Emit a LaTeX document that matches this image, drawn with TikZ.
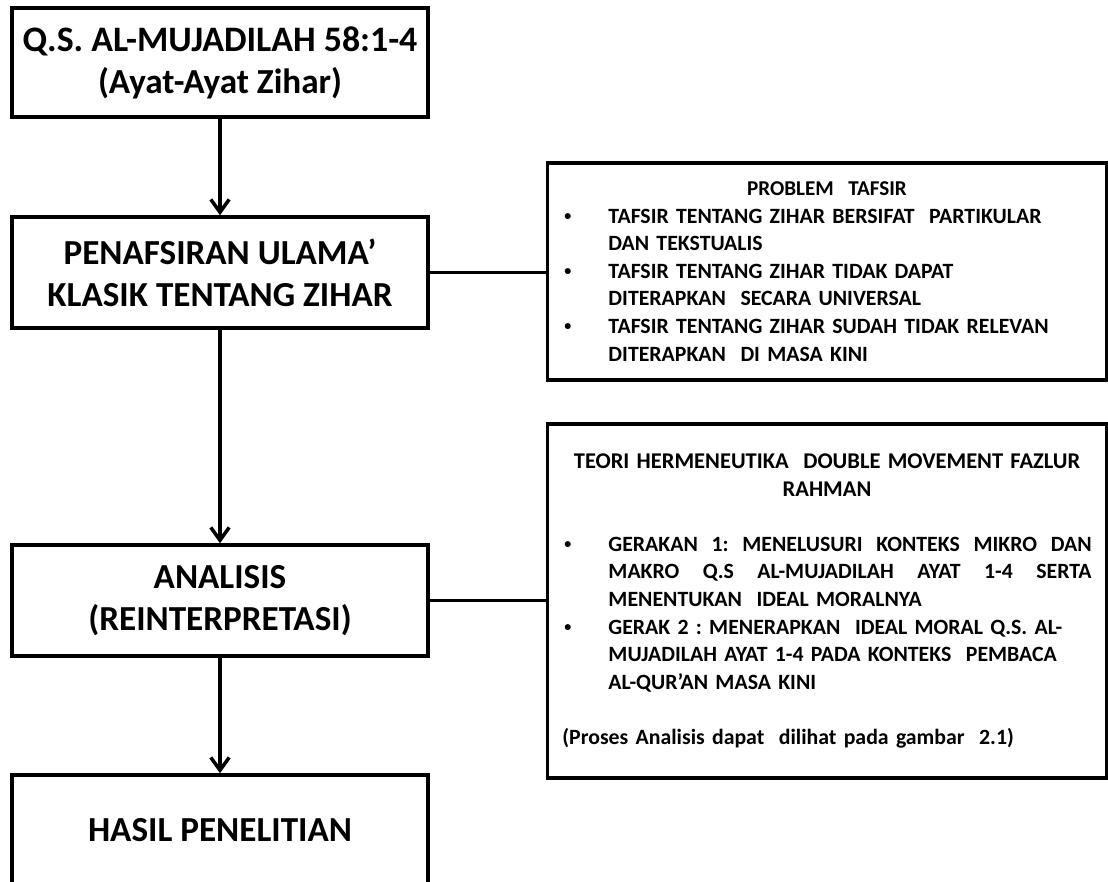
\documentclass[tikz,border=0pt]{standalone}
\usepackage{fontspec}
\setmainfont{Carlito}
\frenchspacing
\usepackage{tikz}
\usetikzlibrary{arrows.meta, positioning}

\newcommand{\notedot}{\makebox[1.15cm][l]{\hspace*{0.05cm}%
  \raisebox{0.12em}{\fontsize{10}{10}\selectfont\textbullet}}}
\newcommand{\noteskip}{\hspace*{1.15cm}}

\tikzset{
  flowbox/.style={
    draw, line width=2.5pt, align=center, fill=white,
    minimum width=10.4cm, minimum height=2.775cm,
    font=\bfseries\fontsize{25}{30}\selectfont
  },
  notebox/.style={
    draw, line width=2.5pt, align=left, fill=white,
    text width=13.225cm, inner xsep=0.375cm, minimum width=13.95cm,
    font=\bfseries\fontsize{15.5}{19.6}\selectfont
  },
  flowarrow/.style={
    -{Straight Barb[length=3.2mm, width=4.6mm]}, line width=2.5pt
  },
  flowline/.style={line width=2.5pt},
}

\begin{document}
\begin{tikzpicture}[x=0.025cm, y=-0.025cm]
  \useasboundingbox (0,0) rectangle (1108,881);

  % ── Main column ────────────────────────────────────────────────
  \node[flowbox, minimum height=2.725cm] (qs) at (220,62.5)
    {{\fontsize{25.5}{30}\selectfont Q.S. AL-MUJADILAH 58:1-4}\\(Ayat-Ayat Zihar)};
  \node[flowbox] (tafsir) at (220,272.5)
    {PENAFSIRAN ULAMA’\\KLASIK TENTANG ZIHAR};
  \node[flowbox] (analisis) at (220,600.5)
    {ANALISIS\\(REINTERPRETASI)};
  \node[flowbox] (hasil) at (220,830.5) {HASIL PENELITIAN};

  \draw[flowarrow] (qs.south) -- (tafsir.north);
  \draw[flowarrow] (tafsir.south) -- (analisis.north);
  \draw[flowarrow] (analisis.south) -- (hasil.north);

  % ── Side notes ─────────────────────────────────────────────────
  \node[notebox, minimum height=5.425cm] (problem) at (827,271.5) {%
    \makebox[\linewidth]{\fontsize{15}{19.6}\selectfont
      PROBLEM\ \ TAFSIR}\\
    \notedot TAFSIR TENTANG ZIHAR BERSIFAT\ \ PARTIKULAR\\
    \noteskip DAN TEKSTUALIS\\
    \notedot TAFSIR TENTANG ZIHAR TIDAK DAPAT\\
    \noteskip DITERAPKAN\ \ SECARA UNIVERSAL\\
    \notedot TAFSIR TENTANG ZIHAR SUDAH TIDAK RELEVAN\\
    \noteskip DITERAPKAN\ \ DI MASA KINI};

  \node[notebox, minimum height=8.85cm] (teori) at (827,601) {%
    \makebox[\linewidth]{\fontsize{16}{19.6}\selectfont
      TEORI HERMENEUTIKA\ \ DOUBLE MOVEMENT FAZLUR}\\
    \makebox[\linewidth]{\fontsize{16}{19.6}\selectfont RAHMAN}\\[19.6pt]
    \notedot\hbox to 12.075cm{GERAKAN\hfill 1:\hfill MENELUSURI\hfill
      KONTEKS\hfill MIKRO\hfill DAN}\\
    \noteskip\hbox to 12.075cm{MAKRO\hfill Q.S\hfill AL-MUJADILAH\hfill
      AYAT\hfill 1-4\hfill SERTA}\\
    \noteskip MENENTUKAN\ \ IDEAL MORALNYA\\
    \notedot GERAK 2 : MENERAPKAN\ \ IDEAL MORAL Q.S. AL-\\
    \noteskip MUJADILAH AYAT 1-4 PADA KONTEKS\ \ PEMBACA\\
    \noteskip AL-QUR’AN MASA KINI\\[19.6pt]
    (Proses Analisis dapat\ \ dilihat pada gambar\ \ 2.1)};

  \draw[flowline] (tafsir.east) -- (tafsir.east -| problem.west);
  \draw[flowline] (analisis.east) -- (analisis.east -| teori.west);
\end{tikzpicture}
\end{document}
